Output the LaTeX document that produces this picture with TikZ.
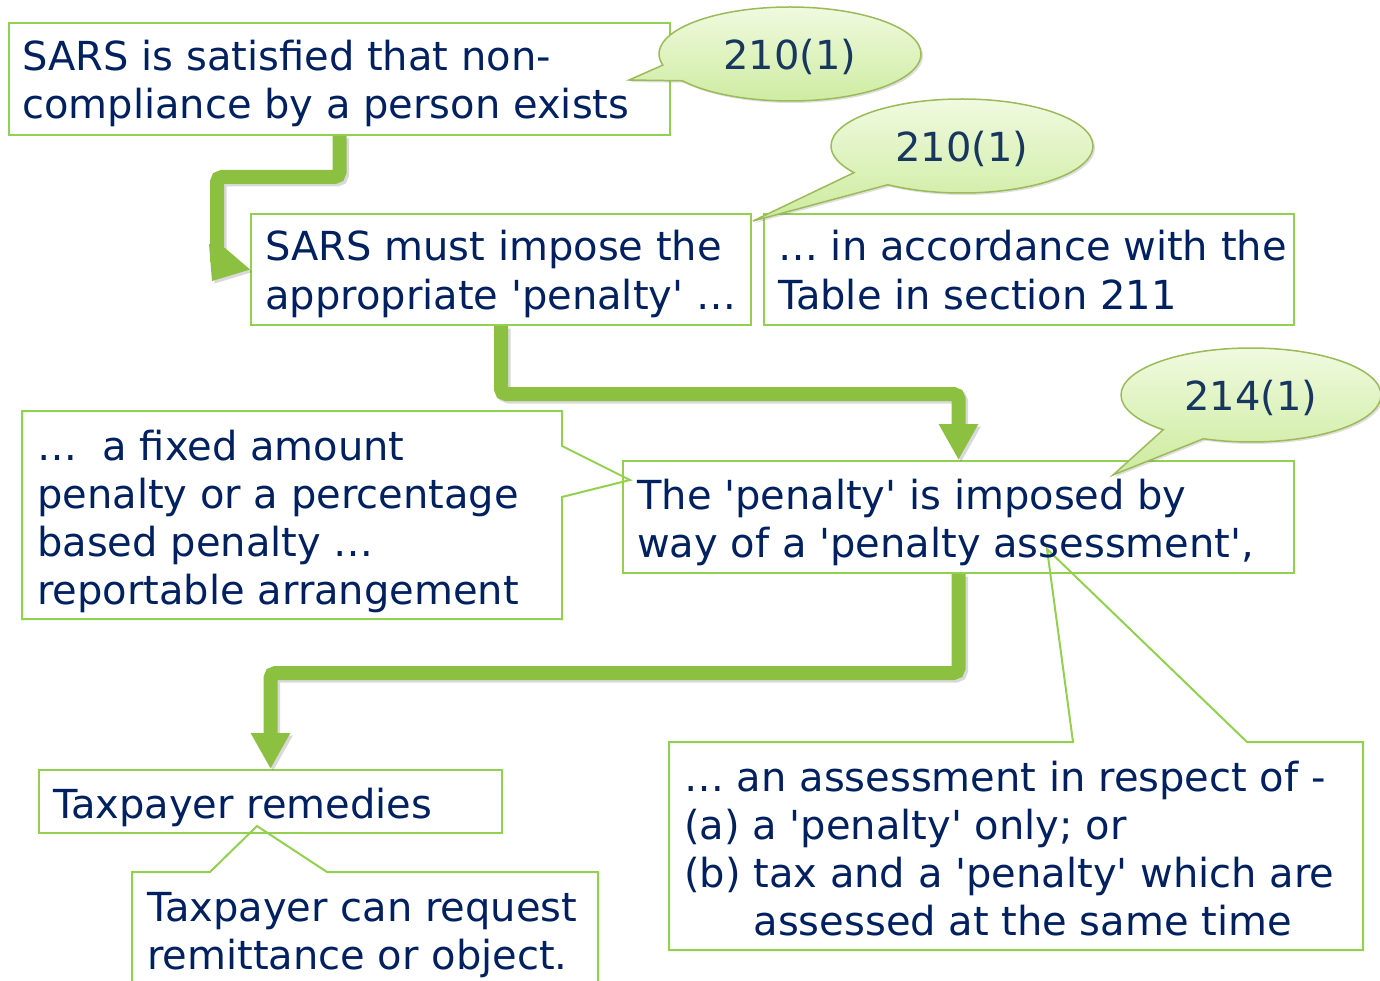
\documentclass[tikz,border=0pt]{standalone}
\usepackage{fontspec}
\setmainfont{DejaVu Sans}[Ligatures=TeXOff]
\usetikzlibrary{arrows.meta,shapes.callouts,shadows,calc}
\definecolor{navy}{HTML}{002060}
\definecolor{bubtext}{HTML}{17375E}
\definecolor{boxline}{HTML}{92D050}
\definecolor{fatgreen}{HTML}{8CC040}
\definecolor{bubline}{HTML}{9BBB59}
\definecolor{bubtop}{HTML}{F0FADF}
\definecolor{bubbot}{HTML}{CCEB9E}
\begin{document}
\begin{tikzpicture}[x=1pt,y=-1pt,
  box/.style={draw=boxline, line width=2pt, inner sep=0pt, anchor=north west},
  cbox/.style={draw=boxline, line width=2pt, line join=miter},
  txt/.style={anchor=base west, inner sep=0pt, align=left, text=navy, font=\fontsize{40}{48}\selectfont},
  bubble/.style={ellipse callout, draw=bubline, line width=1.5pt, top color=bubtop, bottom color=bubbot,
    minimum width=262pt, minimum height=94pt, callout pointer arc=21, text=bubtext,
    font=\fontsize{40}{48}\selectfont, inner sep=0pt, text depth=0pt,
    drop shadow={shadow xshift=2pt, shadow yshift=-2pt, opacity=0.25}},
  fat/.style={draw=fatgreen, line width=14pt, rounded corners=5pt},
  fattip/.style={-{Triangle[width=37pt,length=36pt]}},
  shade/.style={draw=black!60, opacity=0.25, transform canvas={shift={(2.5pt,-2.5pt)}}},
]
\useasboundingbox (0,0) rectangle (1380,981);

% rectangular boxes
\node[box, minimum width=661pt, minimum height=112pt] (b1) at (8,22) {};
\node[box, minimum width=500pt, minimum height=111pt] (b2) at (250,213) {};
\node[box, minimum width=530pt, minimum height=111pt] (b3) at (763,213) {};
\node[box, minimum width=671pt, minimum height=112pt] (b5) at (622,460) {};
\node[box, minimum width=463pt, minimum height=63pt] (b7) at (38,769) {};

% callout boxes
\draw[cbox] (22,411) -- (562,411) -- (562,446) -- (630,480) -- (562,497) -- (562,619) -- (22,619) -- cycle;
\draw[cbox] (669,742) -- (1073,742) -- (1047,549) -- (1247,742) -- (1363,742) -- (1363,950) -- (669,950) -- cycle;
\draw[cbox] (132,995) -- (132,872) -- (210,872) -- (257,826) -- (327,872) -- (598,872) -- (598,995);

% fat arrows: shadows
\coordinate (a1) at (217,262);
\draw[fat, shade] (b1.south) -- ++(0,41) -| (a1);
\fill[black!60, opacity=0.25, transform canvas={shift={(2.5pt,-2.5pt)}}] (209,244) -- (225,248) -- (b2.west) -- (212,281) -- cycle;
\draw[fat, fattip, shade] (b2.south) -- ++(0,68) -| (b5.north);
\draw[fat, fattip, shade] (b5.south) -- ++(0,99) -| (b7.north);
% fat arrows
\draw[fat] (b1.south) -- ++(0,41) -| (a1);
\fill[fatgreen] (209,244) -- (225,248) -- (b2.west) -- (212,281) -- cycle;
\draw[fat, fattip] (b2.south) -- ++(0,68) -| (b5.north);
\draw[fat, fattip] (b5.south) -- ++(0,99) -| (b7.north);

% texts (base = baseline of last line)
\node[txt] (t1) at (22,119) {SARS is satisfied that non-\\compliance by a person exists};
\node[txt] (t2) at (265,309) {SARS must impose the\\appropriate 'penalty' …};
\node[txt] (t3) at (778,309) {… in accordance with the\\Table in section 211};
\node[txt] (t4) at (37,604) {…\ \ a fixed amount\\penalty or a percentage\\based penalty …\\reportable arrangement};
\node[txt] (t5) at (637,557) {The 'penalty' is imposed by\\way of a 'penalty assessment',};
\node[txt] (t6) at (684,935) {… an assessment in respect of -\\(a) a 'penalty' only; or\\(b) tax and a 'penalty' which are\\\phantom{(b) }assessed at the same time};
\node[txt] (t7) at (53,818) {Taxpayer remedies};
\node[txt] (t8) at (147,969) {Taxpayer can request\\remittance or object.};

% bubbles
\node[bubble, callout absolute pointer={(629,80)}] (c1) at (790,54) {210(1)};
\node[bubble, callout absolute pointer={(753,221)}] (c2) at (962,146) {210(1)};
\node[bubble, minimum width=260pt, callout absolute pointer={(1113,475)}] (c3) at (1251,395) {214(1)};
\end{tikzpicture}
\end{document}
